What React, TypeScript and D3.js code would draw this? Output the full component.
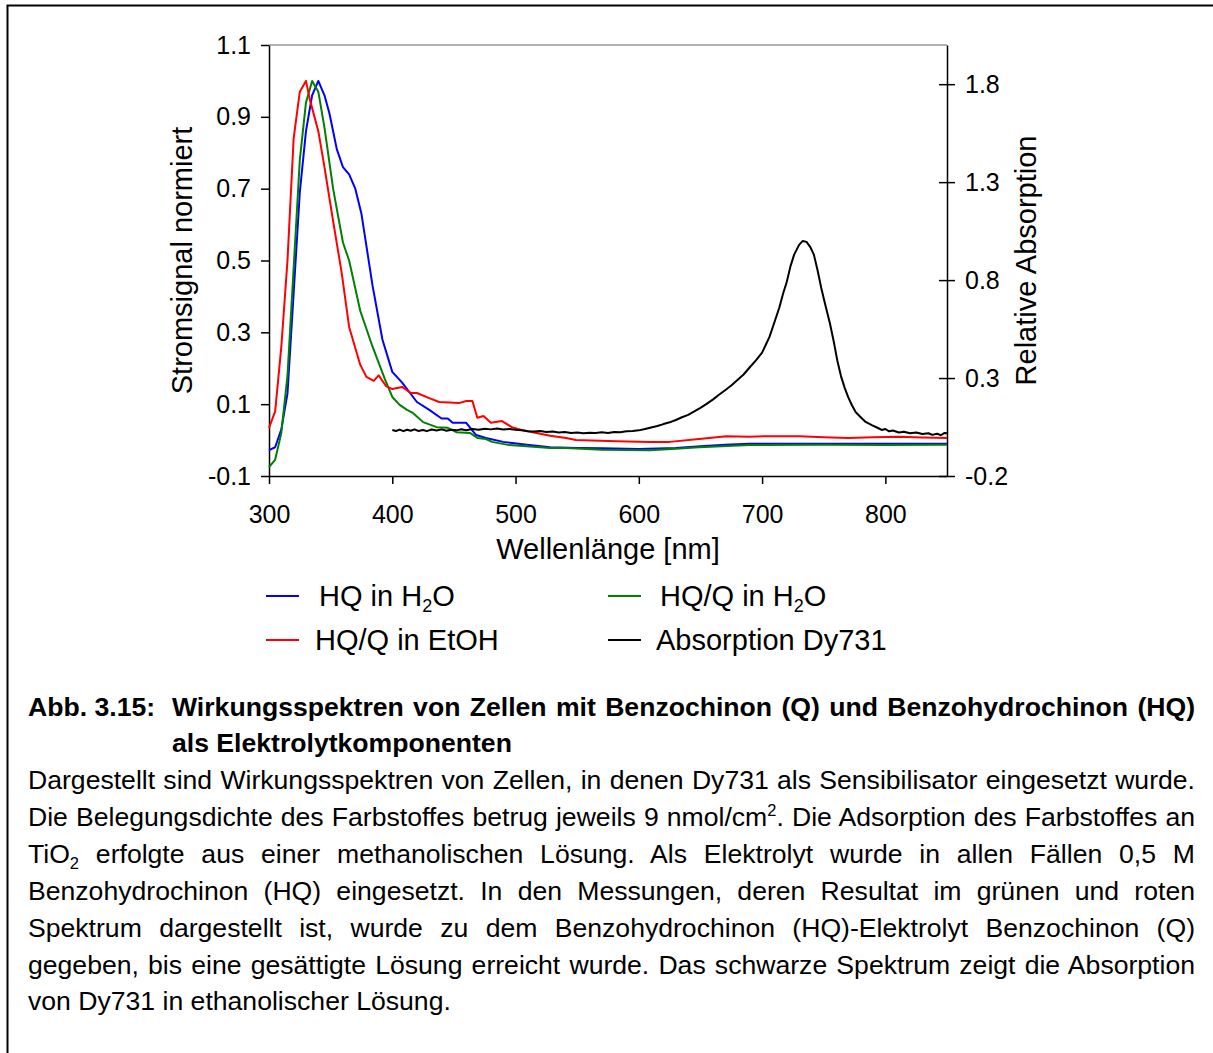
import React, { useEffect, useRef } from 'react';
import * as d3 from 'd3';

// HQ in H2O (blue), normiert, linke Achse
const blueNm = [300, 305, 310, 315, 320, 325, 330, 335, 340, 345, 349, 355, 360, 365, 370, 375, 384, 392, 400, 408, 420, 430, 440, 445, 449, 460, 468, 476, 490, 511, 528, 550, 570, 600, 630, 650, 670, 690, 720, 760, 800, 850];
const blueVal = [-0.028, -0.02, 0.03, 0.13, 0.41, 0.69, 0.86, 0.96, 1.0, 0.96, 0.91, 0.81, 0.76, 0.74, 0.7, 0.63, 0.43, 0.28, 0.19, 0.16, 0.106, 0.084, 0.06, 0.06, 0.048, 0.048, 0.014, 0.006, -0.005, -0.014, -0.02, -0.022, -0.023, -0.025, -0.022, -0.017, -0.013, -0.01, -0.01, -0.01, -0.01, -0.01];

// HQ/Q in H2O (green)
const greenNm = [300, 305, 310, 315, 320, 325, 330, 335, 340, 345, 352, 360, 365, 374, 384, 394, 400, 406, 412, 417, 425, 436, 445, 452, 463, 469, 476, 481, 495, 528, 541, 570, 609, 630, 649, 690, 750, 800, 850];
const greenVal = [-0.075, -0.055, 0.02, 0.18, 0.48, 0.78, 0.94, 1.0, 0.97, 0.87, 0.7, 0.55, 0.5, 0.36, 0.26, 0.17, 0.12, 0.098, 0.084, 0.075, 0.05, 0.036, 0.034, 0.022, 0.02, 0.006, 0.003, -0.005, -0.014, -0.022, -0.022, -0.027, -0.028, -0.024, -0.02, -0.014, -0.013, -0.014, -0.013];

// HQ/Q in EtOH (red)
const redNm = [300, 305, 310, 315, 320, 325, 330, 333, 340, 345, 352, 359, 365, 374, 379, 385, 389, 395, 400, 408, 415, 420, 430, 438, 454, 460, 465, 469, 474, 480, 489, 497, 505, 517, 528, 541, 549, 582, 609, 625, 649, 671, 690, 703, 730, 750, 770, 790, 811, 830, 850];
const redVal = [0.034, 0.08, 0.26, 0.5, 0.84, 0.97, 1.0, 0.95, 0.86, 0.76, 0.61, 0.465, 0.315, 0.21, 0.176, 0.165, 0.18, 0.15, 0.142, 0.148, 0.131, 0.131, 0.117, 0.106, 0.103, 0.109, 0.109, 0.062, 0.067, 0.048, 0.053, 0.036, 0.028, 0.02, 0.012, 0.006, 0.0, -0.003, -0.005, -0.005, 0.003, 0.011, 0.009, 0.011, 0.011, 0.008, 0.006, 0.008, 0.009, 0.007, 0.006];

// Absorption Dy731 (black), rechte Achse
const absNm = [400, 403, 406, 409, 412, 415, 418, 421, 425, 428, 432, 436, 440, 444, 448, 452, 456, 460, 465, 470, 475, 480, 485, 490, 495, 500, 505, 510, 515, 520, 525, 530, 535, 540, 545, 550, 555, 560, 565, 570, 575, 580, 585, 590, 595, 600, 605, 610, 615, 620, 625, 630, 635, 640, 645, 650, 655, 660, 665, 670, 675, 680, 685, 690, 695, 700, 703, 706, 710, 714, 717, 720, 723, 726, 730, 733, 736, 739, 742, 745, 748, 751, 755, 758, 761, 764, 767, 770, 773, 776, 780, 784, 789, 794, 797, 800, 803, 806, 811, 815, 820, 825, 830, 835, 838, 842, 845, 848, 850];
const absVal = [0.035, 0.03, 0.037, 0.029, 0.036, 0.031, 0.038, 0.03, 0.035, 0.029, 0.037, 0.032, 0.038, 0.031, 0.036, 0.033, 0.039, 0.034, 0.04, 0.036, 0.041, 0.038, 0.042, 0.037, 0.04, 0.036, 0.033, 0.029, 0.027, 0.03, 0.025, 0.027, 0.022, 0.024, 0.02, 0.022, 0.018, 0.021, 0.019, 0.023, 0.02, 0.025, 0.023, 0.028, 0.03, 0.033, 0.04, 0.048, 0.055, 0.065, 0.074, 0.086, 0.1, 0.112, 0.13, 0.148, 0.168, 0.19, 0.215, 0.238, 0.262, 0.29, 0.318, 0.355, 0.39, 0.43, 0.47, 0.51, 0.585, 0.66, 0.73, 0.79, 0.87, 0.93, 0.98, 1.0, 0.995, 0.97, 0.93, 0.85, 0.76, 0.68, 0.58, 0.49, 0.39, 0.31, 0.25, 0.2, 0.16, 0.125, 0.1, 0.076, 0.06, 0.045, 0.035, 0.04, 0.028, 0.032, 0.022, 0.026, 0.018, 0.022, 0.014, 0.018, 0.01, 0.016, 0.008, 0.02, 0.018];

const xTicks = [300, 400, 500, 600, 700, 800];
const leftTicks = [-0.1, 0.1, 0.3, 0.5, 0.7, 0.9, 1.1];
const leftTickLabels = ['-0.1', '0.1', '0.3', '0.5', '0.7', '0.9', '1.1'];
const rightTicks = [-0.2, 0.3, 0.8, 1.3, 1.8];
const rightTickLabels = ['-0.2', '0.3', '0.8', '1.3', '1.8'];

const FONT = '"Liberation Sans", Arial, Helvetica, sans-serif';

const captionLines: [string, string][][] = [
  [['Dargestellt sind Wirkungsspektren von Zellen, in denen Dy731 als Sensibilisator eingesetzt wurde.', '']],
  [['Die Belegungsdichte des Farbstoffes betrug jeweils 9 nmol/cm', ''], ['2', 'sup'], ['. Die Adsorption des Farbstoffes an', '']],
  [['TiO', ''], ['2', 'sub'], [' erfolgte aus einer methanolischen Lösung. Als Elektrolyt wurde in allen Fällen 0,5 M', '']],
  [['Benzohydrochinon (HQ) eingesetzt. In den Messungen, deren Resultat im grünen und roten', '']],
  [['Spektrum dargestellt ist, wurde zu dem Benzohydrochinon (HQ)-Elektrolyt Benzochinon (Q)', '']],
  [['gegeben, bis eine gesättigte Lösung erreicht wurde. Das schwarze Spektrum zeigt die Absorption', '']],
  [['von Dy731 in ethanolischer Lösung.', '']],
];

// add text with sub/superscript parts
function addRich(text: any, parts: [string, string][], size: number) {
  parts.forEach(([t, kind], i) => {
    const prev = i > 0 ? parts[i - 1][1] : '';
    const ts = text.append('tspan').text(t);
    if (kind === 'sup') ts.attr('font-size', size * 0.62).attr('dy', -size * 0.38);
    else if (kind === 'sub') ts.attr('font-size', size * 0.62).attr('dy', size * 0.22);
    else if (prev === 'sup') ts.attr('dy', size * 0.38);
    else if (prev === 'sub') ts.attr('dy', -size * 0.22);
  });
}

// stretch the spaces so the line fills the given width
function justify(node: SVGTextElement, width: number) {
  const len = node.getComputedTextLength();
  const spaces = (node.textContent || '').split(' ').length - 1;
  if (spaces > 0) d3.select(node).attr('word-spacing', (width - len) / spaces);
}

function draw(el: SVGSVGElement) {
  const svg = d3.select(el);
  svg.selectAll('*').remove();
  svg.attr('font-family', FONT);

  // outer frame
  svg.append('path').attr('d', 'M7.5,1053V5.5H1220').attr('fill', 'none').attr('stroke', '#000').attr('stroke-width', 2);

  const left = 269, right = 947, top = 45, bottom = 476;
  const x = d3.scaleLinear().domain([300, 850]).range([left, right]);
  const yL = d3.scaleLinear().domain([-0.1, 1.1]).range([bottom, top]);
  const yR = d3.scaleLinear().domain([-0.2, 2.0]).range([bottom, top]);

  // top frame line
  svg.append('line').attr('x1', left).attr('x2', right).attr('y1', top).attr('y2', top)
    .attr('stroke', '#999').attr('stroke-width', 1.5);

  const styleAxis = (g: any) => {
    g.attr('font-family', FONT).attr('font-size', 25);
    g.select('.domain').attr('stroke', '#000').attr('stroke-width', 1.5);
    g.selectAll('.tick line').attr('stroke', '#000').attr('stroke-width', 1.5);
    g.selectAll('.tick text').attr('fill', '#000');
  };

  svg.append('g').attr('transform', `translate(0,${bottom})`)
    .call(d3.axisBottom(x).tickValues(xTicks).tickSize(8).tickSizeOuter(0).tickPadding(21).tickFormat(d3.format('d')))
    .call(styleAxis);

  svg.append('g').attr('transform', `translate(${left},0)`)
    .call(d3.axisLeft(yL).tickValues(leftTicks).tickSize(8).tickSizeOuter(0).tickPadding(10)
      .tickFormat((d, i) => leftTickLabels[i]))
    .call(styleAxis);

  const ra = svg.append('g').attr('transform', `translate(${right},0)`)
    .call(d3.axisRight(yR).tickValues(rightTicks).tickSize(8).tickSizeOuter(0).tickPadding(10)
      .tickFormat((d, i) => rightTickLabels[i]))
    .call(styleAxis);
  ra.selectAll('.tick line').attr('x1', -8);

  // curves
  const lineL = d3.line<[number, number]>().x(d => x(d[0])).y(d => yL(d[1]));
  const lineR = d3.line<[number, number]>().x(d => x(d[0])).y(d => yR(d[1]));
  const series = [
    { nm: blueNm, v: blueVal, color: '#0000ff', line: lineL },
    { nm: greenNm, v: greenVal, color: '#008000', line: lineL },
    { nm: redNm, v: redVal, color: '#ff0000', line: lineL },
    { nm: absNm, v: absVal, color: '#000000', line: lineR },
  ];
  series.forEach(s => {
    svg.append('path')
      .datum(s.nm.map((n, i) => [n, s.v[i]] as [number, number]))
      .attr('d', s.line)
      .attr('fill', 'none')
      .attr('stroke', s.color)
      .attr('stroke-width', 2)
      .attr('stroke-linejoin', 'round');
  });

  // axis titles
  svg.append('text').attr('x', (left + right) / 2).attr('y', 559).attr('text-anchor', 'middle')
    .attr('font-size', 29).text('Wellenlänge [nm]');
  svg.append('text').attr('transform', `translate(192,${(top + bottom) / 2}) rotate(-90)`)
    .attr('text-anchor', 'middle').attr('font-size', 29).text('Stromsignal normiert');
  svg.append('text').attr('transform', `translate(1036,${(top + bottom) / 2}) rotate(-90)`)
    .attr('text-anchor', 'middle').attr('font-size', 29).text('Relative Absorption');

  // legend
  const legend: { color: string, parts: [string, string][], lx: number, tx: number, y: number }[] = [
    { color: '#0000ff', parts: [['HQ in H', ''], ['2', 'sub'], ['O', '']], lx: 266, tx: 319, y: 596 },
    { color: '#008000', parts: [['HQ/Q in H', ''], ['2', 'sub'], ['O', '']], lx: 608, tx: 660, y: 596 },
    { color: '#ff0000', parts: [['HQ/Q in EtOH', '']], lx: 266, tx: 315, y: 640 },
    { color: '#000000', parts: [['Absorption Dy731', '']], lx: 608, tx: 656, y: 640 },
  ];
  legend.forEach(l => {
    svg.append('line').attr('x1', l.lx).attr('x2', l.lx + 33).attr('y1', l.y).attr('y2', l.y)
      .attr('stroke', l.color).attr('stroke-width', 2);
    const t = svg.append('text').attr('x', l.tx).attr('y', l.y + 10).attr('font-size', 29);
    addRich(t, l.parts, 29);
  });

  // caption
  const fs = 26.6;
  svg.append('text').attr('x', 28).attr('y', 716).attr('font-size', fs).attr('font-weight', 'bold').text('Abb. 3.15:');
  const t1 = svg.append('text').attr('x', 172).attr('y', 716).attr('font-size', fs).attr('font-weight', 'bold')
    .text('Wirkungsspektren von Zellen mit Benzochinon (Q) und Benzohydrochinon (HQ)');
  justify(t1.node() as SVGTextElement, 1195 - 172);
  svg.append('text').attr('x', 172).attr('y', 752).attr('font-size', fs).attr('font-weight', 'bold')
    .text('als Elektrolytkomponenten');

  captionLines.forEach((parts, i) => {
    const t = svg.append('text').attr('x', 28).attr('y', 789 + i * 36.9).attr('font-size', fs);
    addRich(t, parts, fs);
    if (i < captionLines.length - 1) justify(t.node() as SVGTextElement, 1195 - 28);
  });
}

export default function App() {
  const ref = useRef<SVGSVGElement>(null);
  useEffect(() => {
    if (ref.current) draw(ref.current);
  }, []);
  return (
    <svg ref={ref} width={1213} height={1053}
      style={{ position: 'absolute', left: 0, top: 0, background: '#fff' }} />
  );
}
